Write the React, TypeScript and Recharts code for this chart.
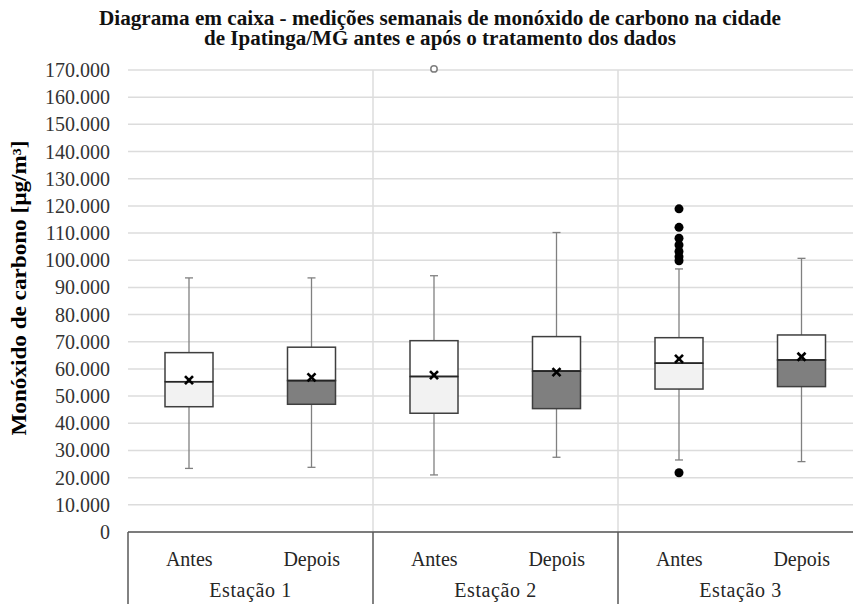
import React from 'react';
import { ComposedChart, Bar, XAxis, YAxis, CartesianGrid, ReferenceLine, Label } from 'recharts';

const categories = ['E1-Antes', 'E1-Depois', 'E2-Antes', 'E2-Depois', 'E3-Antes', 'E3-Depois'];
const periods = ['Antes', 'Depois', 'Antes', 'Depois', 'Antes', 'Depois'];
const stations = ['Estação 1', 'Estação 1', 'Estação 2', 'Estação 2', 'Estação 3', 'Estação 3'];

const whiskerLow = [23400, 23800, 21000, 27500, 26500, 25900];
const q1 = [46100, 47000, 43700, 45400, 52600, 53500];
const median = [55300, 55700, 57200, 59200, 62100, 63300];
const q3 = [66000, 68000, 70400, 71900, 71500, 72500];
const whiskerHigh = [93500, 93500, 94300, 110200, 96800, 100700];
const mean = [55900, 56900, 57700, 58800, 63700, 64500];
const outliers = [
    [],
    [],
    [170400],
    [],
    [118900, 112100, 108100, 105600, 103200, 101300, 99800, 21800],
    [],
];

const yTicks = [0, 10000, 20000, 30000, 40000, 50000, 60000, 70000, 80000, 90000,
    100000, 110000, 120000, 130000, 140000, 150000, 160000, 170000];

const TITLE_1 = 'Diagrama em caixa - medições semanais de monóxido de carbono na cidade';
const TITLE_2 = 'de Ipatinga/MG antes e após o tratamento dos dados';
const Y_LABEL = 'Monóxido de carbono [µg/m³]';

// outliers drawn as solid dots vs hollow circles
const SOLID_OUTLIERS: Record<string, boolean> = { 'E3-Antes': true };

const FONT = '"Liberation Serif", "Times New Roman", serif';

const data = categories.map((id, i) => ({
    id,
    period: periods[i],
    station: stations[i],
    range: [whiskerLow[i], whiskerHigh[i]],
    q1: q1[i],
    median: median[i],
    q3: q3[i],
    mean: mean[i],
    outliers: outliers[i],
}));

const BoxShape = (props: any) => {
    const { x, y, width, height, payload } = props;
    const [lo, hi] = payload.range;
    const toY = (v: number) => y + ((hi - v) / (hi - lo)) * height;
    const cx = x + width / 2;
    const cap = 4;
    const lowerFill = payload.period === 'Antes' ? '#f2f2f2' : '#7f7f7f';
    const solid = SOLID_OUTLIERS[payload.id];
    const yMean = toY(payload.mean);
    return (
        <g>
            <line x1={cx} x2={cx} y1={toY(hi)} y2={toY(payload.q3)} stroke="#808080" strokeWidth={1.3} />
            <line x1={cx} x2={cx} y1={toY(payload.q1)} y2={toY(lo)} stroke="#808080" strokeWidth={1.3} />
            <line x1={cx - cap} x2={cx + cap} y1={toY(hi)} y2={toY(hi)} stroke="#808080" strokeWidth={1.3} />
            <line x1={cx - cap} x2={cx + cap} y1={toY(lo)} y2={toY(lo)} stroke="#808080" strokeWidth={1.3} />
            <rect x={x} y={toY(payload.q3)} width={width} height={toY(payload.median) - toY(payload.q3)}
                fill="#ffffff" stroke="#3f3f3f" strokeWidth={1.5} />
            <rect x={x} y={toY(payload.median)} width={width} height={toY(payload.q1) - toY(payload.median)}
                fill={lowerFill} stroke="#3f3f3f" strokeWidth={1.5} />
            <line x1={x} x2={x + width} y1={toY(payload.median)} y2={toY(payload.median)} stroke="#262626" strokeWidth={1.6} />
            <line x1={cx - 4} x2={cx + 4} y1={yMean - 4} y2={yMean + 4} stroke="#000" strokeWidth={2.6} />
            <line x1={cx - 4} x2={cx + 4} y1={yMean + 4} y2={yMean - 4} stroke="#000" strokeWidth={2.6} />
            {payload.outliers.map((v: number, k: number) => (
                solid
                    ? <circle key={k} cx={cx} cy={toY(v)} r={4.5} fill="#000" />
                    : <circle key={k} cx={cx} cy={toY(v)} r={3.2} fill="#fff" stroke="#7f7f7f" strokeWidth={1.5} />
            ))}
        </g>
    );
};

const PeriodTick = (props: any) => {
    const { x, y, payload } = props;
    const i = categories.indexOf(payload.value);
    const half = payload.offset ?? 0;
    return (
        <g>
            {i % 2 === 0 && (
                <line x1={x - half} x2={x - half} y1={y - 20} y2={y + 90} stroke="#595959" strokeWidth={1.5} />
            )}
            <text x={x} y={y} dy="0.71em" textAnchor="middle" fill="#262626"
                style={{ fontFamily: FONT, fontSize: 20 }}>
                {periods[i]}
            </text>
        </g>
    );
};

const StationTick = (props: any) => {
    const { x, y, payload } = props;
    return (
        <text x={x} y={y} dy="0.71em" textAnchor="middle" fill="#262626"
            style={{ fontFamily: FONT, fontSize: 20, letterSpacing: 0.6 }}>
            {payload.value}
        </text>
    );
};

const formatTick = (v: number) => (v === 0 ? '0' : `${v / 1000}.000`);

const ValueTick = (props: any) => {
    const { x, y, payload } = props;
    return (
        <text x={x} y={y} dy="0.35em" textAnchor="end" fill="#333"
            style={{ fontFamily: FONT, fontSize: 20 }}>
            {formatTick(payload.value)}
        </text>
    );
};

const YLabel = (props: any) => {
    const { viewBox } = props;
    const cy = viewBox.y + viewBox.height / 2 - 13;
    return (
        <text transform={`translate(26, ${cy}) rotate(-90)`} textAnchor="middle" fill="#000"
            textLength={295} lengthAdjust="spacingAndGlyphs"
            style={{ fontFamily: FONT, fontSize: 20, fontWeight: 'bold' }}>
            {Y_LABEL}
        </text>
    );
};

export default function App() {
    return (
        <div style={{ position: 'absolute', left: 0, top: 0, width: 853, height: 604, overflow: 'hidden', background: '#fff', fontFamily: FONT }}>
            <svg width={853} height={60} style={{ position: 'absolute', left: 0, top: 0 }}>
                <text x={440} y={25} textAnchor="middle" fill="#111"
                    textLength={682} lengthAdjust="spacingAndGlyphs"
                    style={{ fontFamily: FONT, fontSize: 20, fontWeight: 'bold' }}>{TITLE_1}</text>
                <text x={440} y={45} textAnchor="middle" fill="#111"
                    textLength={472} lengthAdjust="spacingAndGlyphs"
                    style={{ fontFamily: FONT, fontSize: 20, fontWeight: 'bold' }}>{TITLE_2}</text>
            </svg>
            <ComposedChart width={870} height={620} data={data}
                margin={{ top: 70, right: 7, left: 0, bottom: 0 }}>
                <CartesianGrid vertical={false} stroke="#dcdcdc" strokeWidth={1.5} />
                <XAxis xAxisId="period" dataKey="id" type="category" height={44}
                    tickLine={false} tickSize={0} tickMargin={20} interval={0}
                    axisLine={{ stroke: '#595959', strokeWidth: 1.5 }}
                    tick={<PeriodTick />} />
                <XAxis xAxisId="station" dataKey="station" type="category" allowDuplicatedCategory={false}
                    height={44} axisLine={false} tickLine={false} tickSize={0} tickMargin={7} interval={0}
                    tick={<StationTick />} />
                <YAxis type="number" domain={[0, 170000]} ticks={yTicks} width={128} interval={0}
                    axisLine={false} tickLine={false} tickSize={0} tickMargin={18}
                    tick={<ValueTick />}>
                    <Label content={<YLabel />} />
                </YAxis>
                <ReferenceLine xAxisId="period" x="E2-Antes" position="start" stroke="#dcdcdc" strokeWidth={1.5} />
                <ReferenceLine xAxisId="period" x="E3-Antes" position="start" stroke="#dcdcdc" strokeWidth={1.5} />
                <Bar xAxisId="period" dataKey="range" barSize={48} shape={<BoxShape />} isAnimationActive={false} />
            </ComposedChart>
        </div>
    );
}
